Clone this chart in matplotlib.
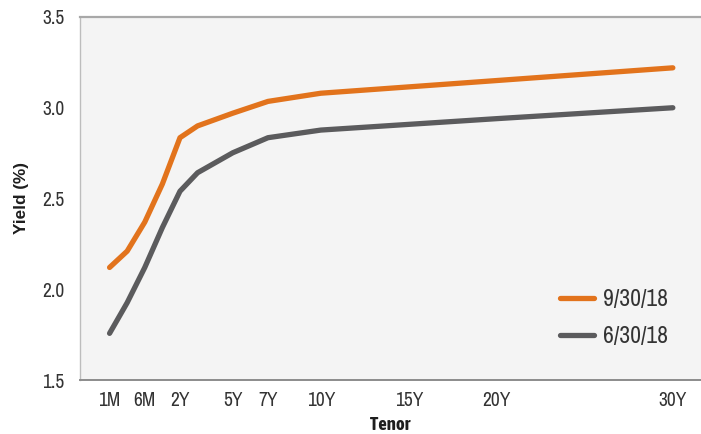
import matplotlib
matplotlib.use("Agg")
import matplotlib.pyplot as plt
from matplotlib import font_manager as fm

# Treasury yield curves; short tenors are spaced one slot apart,
# tenors from 2Y onward sit at their maturity in years.
tenors = ["1M", "3M", "6M", "1Y", "2Y", "3Y", "5Y", "7Y", "10Y", "20Y", "30Y"]
tenor_pos = [-2, -1, 0, 1, 2, 3, 5, 7, 10, 20, 30]
yield_sep18 = [2.12, 2.21, 2.37, 2.58, 2.835, 2.90, 2.97, 3.035, 3.08, 3.15, 3.22]
yield_jun18 = [1.757, 1.926, 2.12, 2.34, 2.54, 2.642, 2.752, 2.835, 2.877, 2.94, 3.00]

tick_labels = ["1M", "6M", "2Y", "5Y", "7Y", "10Y", "15Y", "20Y", "30Y"]
tick_pos = [-2, 0, 2, 5, 7, 10, 15, 20, 30]
y_ticks = [1.5, 2.0, 2.5, 3.0, 3.5]

series_labels = ["9/30/18", "6/30/18"]
colors = ["#e2731c", "#5b5b5d"]


def weight_num(w):
    if isinstance(w, (int, float)):
        return w
    table = {"bold": 700, "heavy": 800, "black": 900, "semibold": 600,
             "demibold": 600, "extra bold": 800, "ultrabold": 800}
    return table.get(str(w).lower(), 400)


def narrow_faces():
    """Names of installed narrow sans faces, with and without a bold weight."""
    entries = fm.fontManager.ttflist
    names = []
    for e in entries:
        if ("Narrow" in e.name or "Condensed" in e.name) and e.name not in names:
            names.append(e.name)
    bold = [n for n in names
            if any(e.name == n and weight_num(e.weight) >= 600 for e in entries)]
    return names, bold


names, bold_names = narrow_faces()
body_font = names[0] if names else "DejaVu Sans"
label_font = bold_names[0] if bold_names else "Roboto"
narrow = bool(names)
plt.rcParams["font.family"] = [body_font, "DejaVu Sans"]
tick_size = 14 if narrow else 12.5
legend_size = 17 if narrow else 15
label_size = 13.5 if bold_names else 12.5

W, H = 701, 434
fig = plt.figure(figsize=(W / 100, H / 100), dpi=100)
ax = fig.add_axes([80 / W, 1 - 380 / H, (W - 80) / W, (380 - 17) / H])
ax.set_facecolor("#f4f4f4")

for ys, lab, c in zip([yield_sep18, yield_jun18], series_labels, colors):
    ax.plot(tenor_pos, ys, color=c, lw=3.8, label=lab,
            solid_capstyle="round", solid_joinstyle="round")

ax.set_xlim(-3.68, 31.6)
ax.set_ylim(1.5, 3.5)
ax.set_xticks(tick_pos)
ax.set_xticklabels(tick_labels)
ax.set_yticks(y_ticks)
ax.set_yticklabels([f"{v:.1f}" for v in y_ticks])
ax.tick_params(axis="both", length=0, labelsize=tick_size, colors="#333333")
ax.tick_params(axis="x", pad=8)
ax.tick_params(axis="y", pad=11)

ax.spines["right"].set_visible(False)
ax.spines["top"].set_color("#a8a8a8")
ax.spines["top"].set_linewidth(1.6)
ax.spines["left"].set_color("#bdbdbd")
ax.spines["left"].set_linewidth(1.0)
ax.spines["bottom"].set_color("#8c8c8c")
ax.spines["bottom"].set_linewidth(1.4)

ax.set_xlabel("Tenor", fontsize=label_size, fontweight="bold", color="#1e1e1e",
              labelpad=4, family=[label_font, "DejaVu Sans"])
ax.set_ylabel("Yield (%)", fontsize=12.3, fontweight="bold", color="#1e1e1e",
              labelpad=10, family=["Liberation Sans", "DejaVu Sans"])

leg = ax.legend(loc="center left", bbox_to_anchor=(0.773, 0.17), frameon=False,
                fontsize=legend_size, handlelength=1.44, handletextpad=0.37,
                labelspacing=0.66, borderpad=0, borderaxespad=0,
                labelcolor="#333333")

fig.savefig("out.png", dpi=100)
